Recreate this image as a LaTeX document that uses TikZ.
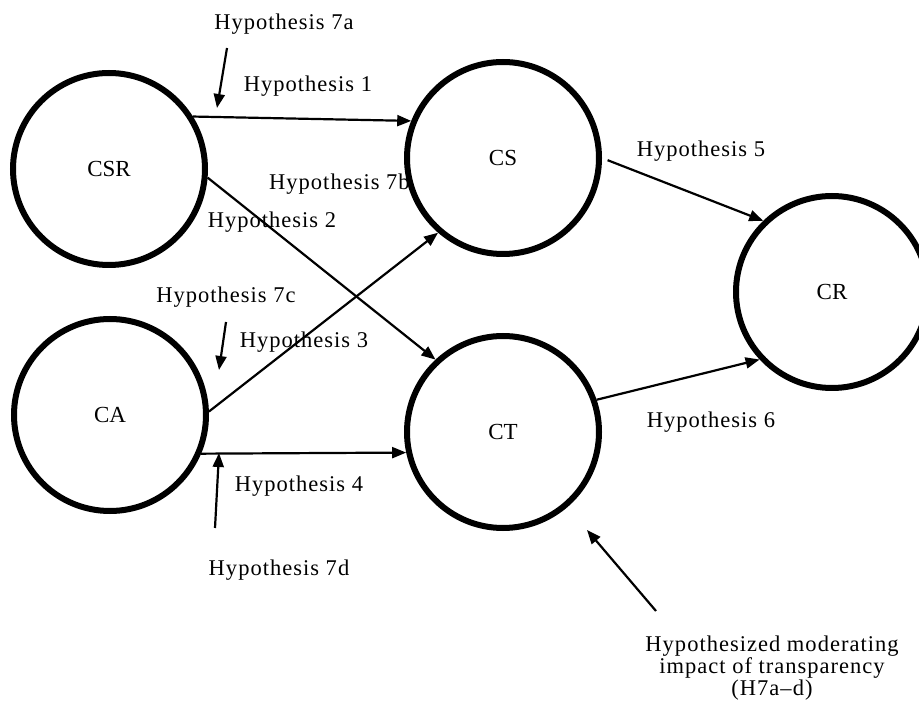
\documentclass[tikz,border=0pt]{standalone}
\usepackage{fontspec}
\setmainfont{Liberation Serif}
\newfontfamily\hypfont[LetterSpace=4.5]{Liberation Serif}
\usetikzlibrary{arrows.meta}
\begin{document}
\begin{tikzpicture}[x=1pt,y=-1pt,
  hyp/.style={font=\hypfont\fontsize{22.5}{22}\selectfont, inner sep=0pt, anchor=base},
  var/.style={circle, draw, line width=6pt, fill=white, minimum size=192pt, inner sep=0pt, font=\fontsize{23}{27}\selectfont},
  link/.style={line width=2.2pt, -{Triangle[length=14pt,width=11pt]}}]
\useasboundingbox (0,0) rectangle (919,708);
% labels
\node[hyp] (l7a) at (284,30) {Hypothesis 7a};
\node[hyp] (l1) at (308,92) {Hypothesis 1};
\node[hyp,anchor=base west] (l7b) at (269,190) {Hypothesis 7b};
\node[hyp] (l2) at (272,228) {Hypothesis 2};
\node[hyp] (l7c) at (226,303) {Hypothesis 7c};
\node[hyp] (l3) at (304,348) {Hypothesis 3};
\node[hyp] (l4) at (299,492) {Hypothesis 4};
\node[hyp] (l7d) at (279,576) {Hypothesis 7d};
\node[hyp] (l5) at (701,157) {Hypothesis 5};
\node[hyp] (l6) at (711,428) {Hypothesis 6};
\node[hyp, anchor=north, align=center] (lmod) at (772,635.5) {Hypothesized moderating\\impact of transparency\\(H7a–d)};
% constructs
\node[var] (CSR) at (109,169) {CSR};
\node[var] (CA) at (110,415) {CA};
\node[var] (CS) at (503,158) {CS};
\node[var] (CT) at (503,432) {CT};
\node[var] (CR) at (832,292) {CR};
% paths
\draw[link] (CSR.32) -- (CS.158.4);
\draw[link] (CSR.-5) -- (CT.133);
\draw[link] (CA.2) -- (CS.229);
\draw[link] (CA.-23.5) -- (CT.192.3);
\draw[link, shorten <=6pt] (CS.-0.5) -- (CR.134);
\draw[link] (CT.19.3) -- (CR.223.4);
% moderating arrows
\coordinate (t7a) at (227,48);  \coordinate (h7a) at (217,108);
\coordinate (t7c) at (226,322); \coordinate (h7c) at (219,370);
\coordinate (t7d) at (215,528); \coordinate (h7d) at (219,453);
\coordinate (tmod) at (656,611); \coordinate (hmod) at (587,530);
\draw[link] (t7a) -- (h7a);
\draw[link] (t7c) -- (h7c);
\draw[link] (t7d) -- (h7d);
\draw[link] (tmod) -- (hmod);
\end{tikzpicture}
\end{document}
